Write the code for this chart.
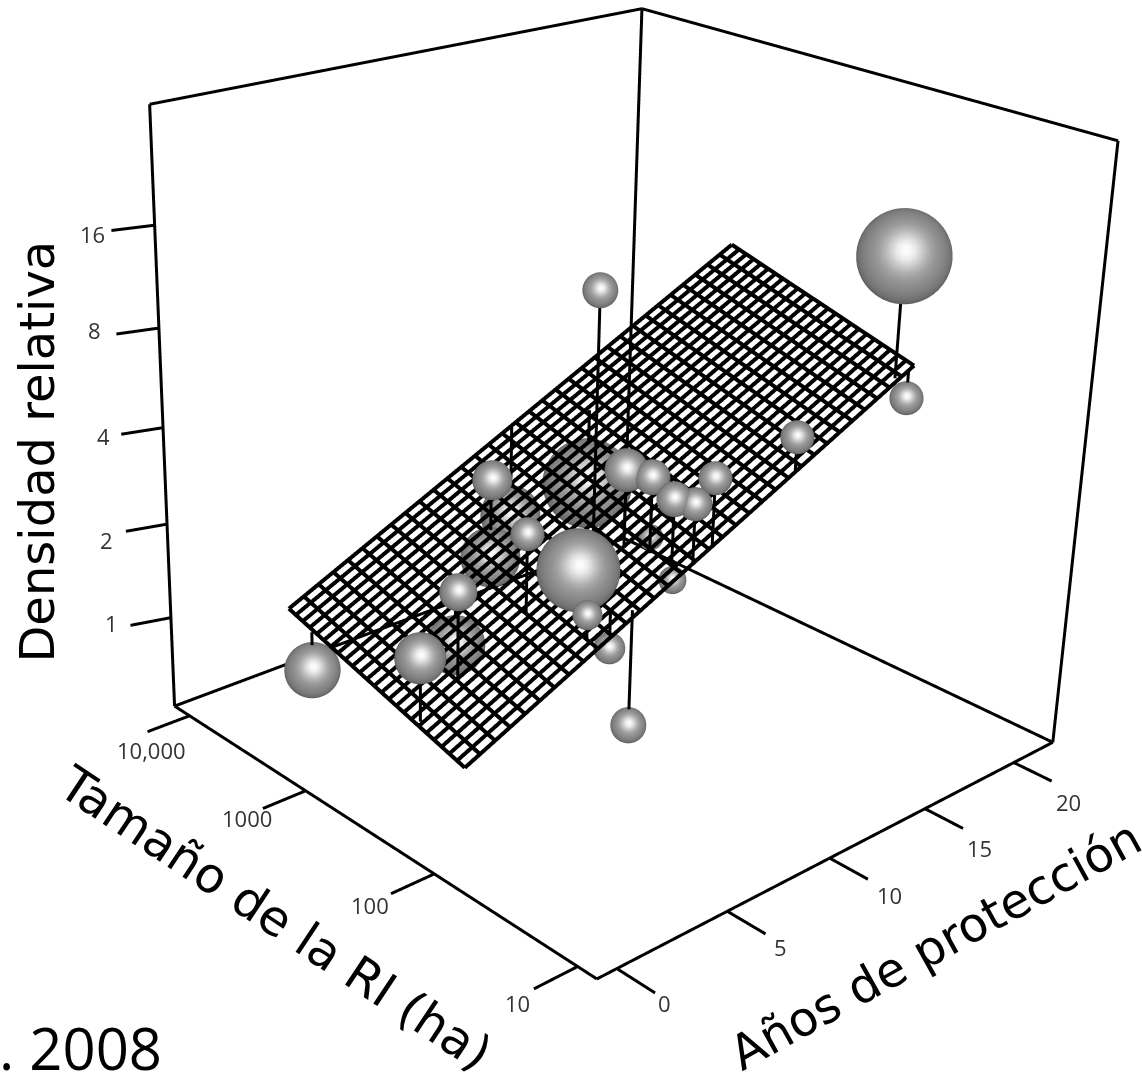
import numpy as np, plotly.graph_objects as go

# Data
anios    = [19.18,19.76,6.90,6.41,-1.20,-0.99,0.89,2.80,6.53,4.01,7.17,8.89,11.20,5.49,4.63,5.88,8.68,9.71,8.01,8.35,8.44,8.96,9.89,13.94]
tamano   = [57.6,55.2,134.4,59.1,727.9,120.9,134.9,292.9,647.3,140.9,836.4,1114.8,659.5,103.5,65.5,69.8,67.3,136.6,118.8,88.1,63.8,54.4,54.6,54.9]
densidad = [13.739,5.012,15.678,1.008,1.346,2.173,2.943,1.541,3.391,3.612,1.791,2.094,2.602,2.777,2.370,1.726,2.369,2.609,4.666,4.630,4.229,4.106,4.660,5.032]
peso     = [73.3,26.6,25.5,26.7,41.4,36.4,26.9,44.5,30.5,24.5,46.8,47.5,71.2,61.2,21.6,23.4,20.7,19.7,32.3,26.3,26.2,24.8,24.9,25.6]
# Fitted plane: log2(densidad) = p0 + p1*anios + p2*log10(tamano)
plano = [-0.2761,0.1087,0.4256]
plano_x = [-1.1289,20.0326]
plano_y = [1.7409,3.0557]
xticks=[0,5,10,15,20]; xlabels=['0','5','10','15','20']
yticks=[10,100,1000,10000]; ylabels=['10','100','1000','10,000']
zticks=[1,2,4,8,16]; zlabels=['1','2','4','8','16']

# View
e=np.array([-2.5556,-2.6349,1.5458]); a=np.array([1.0,1.0028,1.001]); up=np.array([-0.0205,0.0227,1.0])
cx,cy=621.6,437.8; f0=2593
qx=[-0.865,22.308]; qy=[0.874,4.137]; qz=[-0.975,5.135]
sx,sy,sz=qx[1]-qx[0],qy[1]-qy[0],qz[1]-qz[0]
W=2400; H=round(f0*2*np.tan(np.pi/8)); tx=W/2-cx; ty=H/2-cy; pad=0.12
w=-e/np.linalg.norm(e); r_=np.cross(w,up); r_/=np.linalg.norm(r_); u_=np.cross(r_,w)
def d2m(x,y,z): return (np.array([(x-qx[0])/sx,(y-qy[0])/sy,(z-qz[0])/sz])-0.5)*a
def trace(segs,width=6):
    X,Y,Z=[],[],[]
    for p,q in segs:
        X+=[p[0],q[0],None];Y+=[p[1],q[1],None];Z+=[p[2],q[2],None]
    return go.Scatter3d(x=X,y=Y,z=Z,mode='lines',line=dict(color='black',width=width),showlegend=False,hoverinfo='skip')
def corner(i,j,k): return (qx[0]+i*sx,qy[0]+j*sy,qz[0]+k*sz)
edges=[((0,0,0),(1,0,0)),((0,0,0),(0,1,0)),((1,0,0),(1,1,0)),((0,1,0),(1,1,0)),((1,0,0),(1,0,1)),((0,1,0),(0,1,1)),((1,1,0),(1,1,1)),((1,0,1),(1,1,1)),((0,1,1),(1,1,1))]
traces=[trace([(corner(*p),corner(*q)) for p,q in edges])]
zpl=lambda X,Y:plano[0]+plano[1]*X+plano[2]*Y
NX,NY=33,24
x0,x1=plano_x; y0,y1=plano_y
gx=np.linspace(x0,x1,NX+1); gy=np.linspace(y0,y1,NY+1)
traces.append(trace([((X,y0,zpl(X,y0)),(X,y1,zpl(X,y1))) for X in gx],8))
traces.append(trace([((x0,Y,zpl(x0,Y)),(x1,Y,zpl(x1,Y))) for Y in gy],8))
stems=[]
for X,S,D in zip(anios,tamano,densidad):
    Y=np.log10(S); stems.append(((X,Y,np.log2(D)),(X,Y,zpl(X,Y))))
traces.append(trace(stems))
tk=[((v,qy[0],qz[0]),(v,qy[0]-0.075*sy,qz[0])) for v in xticks]
tk+=[((qx[0],np.log10(v),qz[0]),(qx[0]-0.08*sx,np.log10(v),qz[0])) for v in yticks]
tk+=[((qx[0],qy[1],np.log2(v)),(qx[0]-0.0637*sx,qy[1]+0.0183*sy,np.log2(v))) for v in zticks]
traces.append(trace(tk))
th=np.linspace(0,np.pi,25); ph=np.linspace(0,2*np.pi,49); TH,PH=np.meshgrid(th,ph)
N=np.stack([np.sin(TH)*np.cos(PH),np.sin(TH)*np.sin(PH),np.cos(TH)],-1)
for X,S,D,P in zip(anios,tamano,densidad,peso):
    C=d2m(X,np.log10(S),np.log2(D)); R=P/1000
    v=e-C; v/=np.linalg.norm(v); h=v+0.12*u_+0.04*r_; h/=np.linalg.norm(h)
    dt=np.clip(N@h,0,1); col=np.clip(0.36+0.27*dt+0.37*dt**12,0,1)
    M=C+R*N; n=M/a+0.5
    traces.append(go.Surface(x=qx[0]+n[...,0]*sx,y=qy[0]+n[...,1]*sy,z=qz[0]+n[...,2]*sz,surfacecolor=col,cmin=0,cmax=1,
      colorscale=[[0,'rgb(0,0,0)'],[1,'rgb(255,255,255)']],showscale=False,hoverinfo='skip',
      lighting=dict(ambient=1,diffuse=0,specular=0,fresnel=0,roughness=1)))
fig=go.Figure(traces)
ax=dict(showgrid=False,showbackground=False,zeroline=False,showspikes=False,title='',showticklabels=False,ticks='')
A=a*(1+2*pad)
lab=dict(family='Open Sans',size=22,color='#333')
sa=[]
for v,l,(dx,dy) in zip(xticks,xlabels,[(4,6),(9,10),(16,13),(11,17),(11,18)]):
    sa.append(dict(x=v,y=qy[0]-0.086*sy,z=qz[0],text=l,showarrow=False,xshift=dx,yshift=-dy,font=lab))
for v,l,(dx,dy) in zip(yticks,ylabels,[(-16,14),(-21,11),(-16,9),(4,18)]):
    sa.append(dict(x=qx[0]-0.08*sx,y=np.log10(v),z=qz[0],text=l,showarrow=False,xshift=dx,yshift=-dy,font=lab))
for v,l,(dx,dy) in zip(zticks,zlabels,[(-19,-2),(-19,9),(-18,2),(-22,-4),(-19,4)]):
    sa.append(dict(x=qx[0]-0.0637*sx,y=qy[1]+0.0183*sy,z=np.log2(v),text=l,showarrow=False,xshift=dx,yshift=-dy,font=lab))
px=lambda v:(v+tx)/W
py=lambda v:1-(v+ty)/H
T=dict(family='DejaVu Sans',size=48,color='black')
anns=[dict(text='Densidad relativa',x=px(37),y=py(451),textangle=-90,font=T,xanchor='center',yanchor='middle'),
 dict(text='Tamaño de la RI (ha)',x=px(275),y=py(918),textangle=33.6,font=dict(T,size=49),xanchor='center',yanchor='middle'),
 dict(text='Años de protección',x=px(935),y=py(945),textangle=-29,font=T,xanchor='center',yanchor='middle'),
 dict(text='. 2008',x=px(-3),y=py(1047),xanchor='left',yanchor='middle',font=dict(family='Open Sans',size=58,color='black'))]
for an in anns: an.update(xref='paper',yref='paper',showarrow=False)
fig.update_layout(width=W,height=H,margin=dict(l=0,r=0,t=0,b=0),paper_bgcolor='white',annotations=anns,
  scene=dict(domain=dict(x=[0,1],y=[0,1]),aspectmode='manual',dragmode='orbit',aspectratio=dict(x=A[0],y=A[1],z=A[2]),
   camera=dict(eye=dict(x=e[0],y=e[1],z=e[2]),center=dict(x=0,y=0,z=0),up=dict(x=up[0],y=up[1],z=up[2])),
   xaxis=dict(ax,range=[qx[0]-pad*sx,qx[1]+pad*sx]),yaxis=dict(ax,range=[qy[0]-pad*sy,qy[1]+pad*sy]),zaxis=dict(ax,range=[qz[0]-pad*sz,qz[1]+pad*sz]),annotations=sa))
ps=f"document.documentElement.style.overflow='hidden';document.body.style.margin='0';document.body.style.overflow='hidden';var g=document.querySelector('.plotly-graph-div');g.style.position='fixed';g.style.left='{-tx}px';g.style.top='{-ty}px';"
fig.write_html('out.html',post_script=ps)
